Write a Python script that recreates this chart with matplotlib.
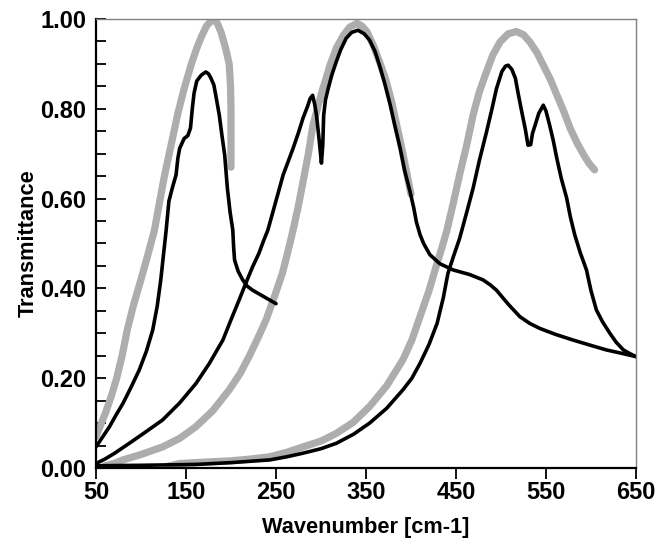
import matplotlib
matplotlib.use("Agg")
import matplotlib.pyplot as plt
from matplotlib.ticker import MultipleLocator, FormatStrFormatter

plt.rcParams['font.family'] = ['Liberation Sans', 'DejaVu Sans']

# gray spectra (thick)
g1_x = [50, 55, 61, 67, 73, 79, 85, 92, 100, 107, 115, 120, 126, 133, 141, 148, 156, 162, 167, 173,
        180, 185, 189, 194, 198, 199.5, 200, 200]
g1_y = [0.07, 0.095, 0.125, 0.16, 0.2, 0.25, 0.31, 0.365, 0.42, 0.47, 0.53, 0.585, 0.65, 0.715, 0.79,
        0.845, 0.90, 0.935, 0.96, 0.985, 1.0, 0.99, 0.97, 0.935, 0.90, 0.85, 0.80, 0.67]

g2_x = [60, 70, 80, 100, 124, 143, 161, 180, 198, 210, 220, 230, 239, 248, 257, 263, 269, 275, 280,
        286, 291, 296, 301, 306, 310, 317, 325, 332, 340, 345, 351, 358, 365, 372, 378, 384, 390, 395, 400]
g2_y = [0.005, 0.01, 0.018, 0.03, 0.047, 0.066, 0.092, 0.128, 0.174, 0.21, 0.248, 0.29, 0.33, 0.38,
        0.433, 0.48, 0.53, 0.585, 0.637, 0.70, 0.763, 0.80, 0.838, 0.87, 0.897, 0.935, 0.964, 0.982,
        0.99, 0.985, 0.972, 0.942, 0.905, 0.865, 0.82, 0.765, 0.71, 0.66, 0.61]

g3_x = [130, 143, 170, 200, 222, 243, 262, 280, 300, 317, 336, 354, 373, 391, 401, 410, 420, 429, 435,
        440, 447, 454, 462, 469, 476, 484, 491, 499, 508, 517, 525, 532, 540, 547, 555, 562, 570, 577,
        585, 592, 598, 604]
g3_y = [0.004, 0.01, 0.013, 0.016, 0.02, 0.025, 0.035, 0.047, 0.06, 0.077, 0.102, 0.137, 0.183, 0.241,
        0.285, 0.337, 0.395, 0.456, 0.495, 0.53, 0.59, 0.653, 0.72, 0.786, 0.838, 0.883, 0.92, 0.949,
        0.967, 0.972, 0.965, 0.949, 0.925, 0.897, 0.865, 0.831, 0.793, 0.756, 0.722, 0.697, 0.678, 0.664]

# black spectra
b1_x = [50, 57, 65, 72, 80, 89, 98, 106, 113, 118, 122, 125, 128, 131, 135, 139, 141, 143, 148, 152,
        155, 157, 159, 162, 167, 172, 175, 178, 181, 184, 187, 190, 193, 196, 199, 202, 203, 204, 208,
        213, 218, 224, 237, 250]
b1_y = [0.047, 0.068, 0.092, 0.117, 0.144, 0.18, 0.218, 0.26, 0.307, 0.36, 0.419, 0.475, 0.53, 0.594,
        0.625, 0.653, 0.69, 0.712, 0.734, 0.74, 0.757, 0.80, 0.835, 0.862, 0.875, 0.882, 0.878, 0.867,
        0.853, 0.82, 0.786, 0.74, 0.697, 0.623, 0.57, 0.53, 0.49, 0.463, 0.438, 0.419, 0.405, 0.396,
        0.381, 0.366]

b2_x = [50, 60, 70, 87, 105, 124, 143, 161, 176, 191, 200, 209, 218, 224, 231, 236, 241, 250, 258, 264,
        269, 275, 280, 285, 288, 290.7, 293, 295, 298, 300.5, 302, 303, 305, 308, 312, 317, 322, 328,
        334, 341, 348, 354, 360, 365, 371, 377, 382, 388, 393, 399, 403, 406, 410, 414, 421, 432, 447,
        465, 480, 488, 495, 508, 521, 532, 543, 560, 580, 600, 617, 635, 650]
b2_y = [0.01, 0.02, 0.032, 0.055, 0.08, 0.107, 0.145, 0.188, 0.233, 0.285, 0.33, 0.374, 0.419, 0.448,
        0.478, 0.505, 0.53, 0.595, 0.653, 0.685, 0.712, 0.747, 0.779, 0.805, 0.823, 0.83, 0.81, 0.786,
        0.73, 0.679, 0.72, 0.786, 0.82, 0.845, 0.875, 0.905, 0.932, 0.957, 0.97, 0.975, 0.967, 0.953,
        0.928, 0.897, 0.855, 0.808, 0.763, 0.712, 0.662, 0.615, 0.58, 0.548, 0.52, 0.50, 0.475, 0.455,
        0.441, 0.431, 0.419, 0.408, 0.396, 0.365, 0.337, 0.322, 0.311, 0.298, 0.285, 0.273, 0.263,
        0.255, 0.248]

b3_x = [50, 100, 161, 200, 243, 262, 280, 300, 317, 336, 354, 373, 391, 401, 410, 420, 429, 436, 441,
        447, 454, 462, 469, 476, 484, 490, 495, 501, 505, 508, 512, 516, 519, 523, 527, 530, 533, 535,
        538, 542, 547, 550, 554, 558, 562, 567, 573, 577, 582, 588, 595, 600, 606, 613, 621, 628, 636,
        643, 650]
b3_y = [0.005, 0.006, 0.008, 0.012, 0.018, 0.025, 0.033, 0.043, 0.055, 0.075, 0.10, 0.133, 0.174, 0.2,
        0.233, 0.275, 0.322, 0.38, 0.433, 0.47, 0.511, 0.57, 0.623, 0.685, 0.749, 0.80, 0.845, 0.883,
        0.895, 0.897, 0.888, 0.868, 0.835, 0.794, 0.755, 0.719, 0.72, 0.745, 0.764, 0.79, 0.808, 0.795,
        0.764, 0.73, 0.69, 0.645, 0.601, 0.56, 0.519, 0.48, 0.441, 0.395, 0.352, 0.325, 0.30, 0.28,
        0.263, 0.255, 0.248]

gray = '#adadad'

fig = plt.figure(figsize=(6.67, 5.44), dpi=100)
ax = fig.add_axes([0.1439, 0.1397, 0.8096, 0.8254])

for xs, ys in [(g1_x, g1_y), (g2_x, g2_y), (g3_x, g3_y)]:
    ax.plot(xs, ys, color=gray, lw=5.2, solid_capstyle='round', solid_joinstyle='round')
for xs, ys in [(b1_x, b1_y), (b2_x, b2_y), (b3_x, b3_y)]:
    ax.plot(xs, ys, color='black', lw=2.6, solid_capstyle='round', solid_joinstyle='round')

ax.set_xlim(50, 650)
ax.set_ylim(0, 1)
ax.set_xticks(range(50, 651, 100))
ax.yaxis.set_major_locator(MultipleLocator(0.2))
ax.yaxis.set_minor_locator(MultipleLocator(0.05))
ax.yaxis.set_major_formatter(FormatStrFormatter('%.2f'))

ax.tick_params(axis='x', direction='out', length=8, width=1.3, pad=1.5, labelsize=17)
ax.tick_params(axis='y', which='both', direction='in', length=7, width=1.3, pad=7, labelsize=17)
for lab in ax.get_xticklabels() + ax.get_yticklabels():
    lab.set_fontweight('bold')

for s in ['left', 'bottom']:
    ax.spines[s].set_linewidth(1.6)
    ax.spines[s].set_color('black')
for s in ['top', 'right']:
    ax.spines[s].set_linewidth(1.0)
    ax.spines[s].set_color('#808080')

ax.set_xlabel('Wavenumber [cm-1]', fontsize=15.7, fontweight='bold', labelpad=9)
ax.set_ylabel('Transmittance', fontsize=15.7, fontweight='bold', labelpad=1)

fig.savefig('out.png', dpi=100)
